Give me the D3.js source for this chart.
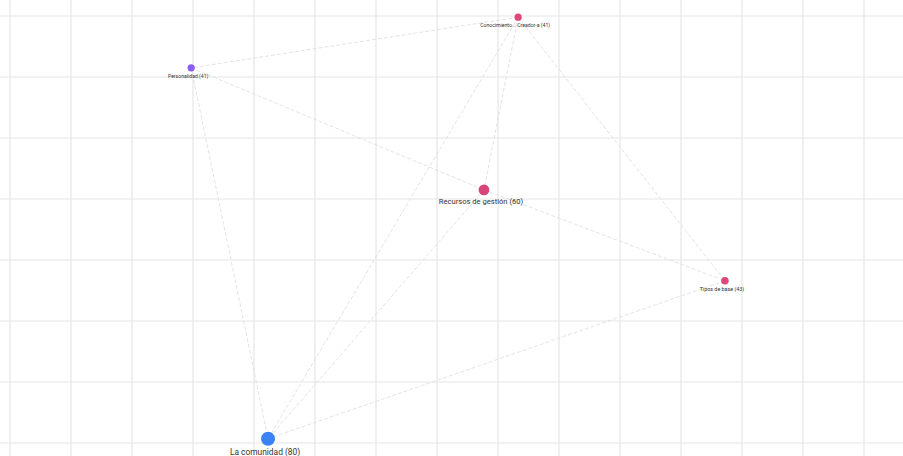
<!DOCTYPE html>
<html>
<head>
<meta charset="utf-8">
<script src="https://cdn.jsdelivr.net/npm/d3@7"></script>
<style>
  body { margin: 0; background: #fff; }
  svg { display: block; }
</style>
</head>
<body>
<div id="graph"></div>
<script>
/* node data (grid units) */
var nodeNames = ["Conocimiento... Creador-a", "Personalidad", "Recursos de gestión", "Tipos de base", "La comunidad"],
    nodeValues = [41, 41, 60, 43, 80],
    nodeX = [8.33, 2.97, 7.77, 11.72, 4.23],
    nodeY = [0.02, 0.85, 2.85, 4.34, 6.93],
    nodeColors = ["#e0467c", "#8b5cf6", "#d9477a", "#e0457b", "#3b82f6"];

/* links as [source, target] indexes */
var links = [[0, 1], [0, 2], [0, 3], [0, 4], [1, 2], [1, 4], [2, 3], [2, 4], [3, 4]];

var width = 903,
    height = 456;

var x = d3.scaleLinear().domain([0, 14]).range([10, 864]),
    y = d3.scaleLinear().domain([0, 7]).range([16, 443]);

var r = d3.scaleSqrt().domain([40, 80]).range([3.5, 7]),
    fontSize = d3.scaleLinear().domain([40, 60, 80]).range([5, 7.6, 8.4]);

var nodes = nodeNames.map(function(d, i) {
    return { name: d, value: nodeValues[i], x: nodeX[i], y: nodeY[i], color: nodeColors[i] };
});

var svg = d3.select("#graph")
            .append("svg")
            .attr("width", width)
            .attr("height", height);

/* background grid */
svg.append("g")
    .selectAll("line")
    .data(d3.range(0, 15))
    .enter().append("line")
        .attr("x1", function(d) { return x(d); })
        .attr("x2", function(d) { return x(d); })
        .attr("y1", 0)
        .attr("y2", height)
        .attr("stroke", "#e6e6e6")
        .attr("stroke-width", 1.2);

svg.append("g")
    .selectAll("line")
    .data(d3.range(0, 8))
    .enter().append("line")
        .attr("x1", 0)
        .attr("x2", width)
        .attr("y1", function(d) { return y(d); })
        .attr("y2", function(d) { return y(d); })
        .attr("stroke", "#e6e6e6")
        .attr("stroke-width", 1.2);

/* links */
svg.append("g")
    .selectAll("line")
    .data(links)
    .enter().append("line")
        .attr("x1", function(d) { return x(nodes[d[0]].x); })
        .attr("y1", function(d) { return y(nodes[d[0]].y); })
        .attr("x2", function(d) { return x(nodes[d[1]].x); })
        .attr("y2", function(d) { return y(nodes[d[1]].y); })
        .attr("stroke", "#dcdcdc")
        .attr("stroke-width", 0.8)
        .attr("stroke-dasharray", "4,2");

/* nodes */
var node = svg.append("g")
              .selectAll("g")
              .data(nodes)
              .enter().append("g")
                  .attr("transform", function(d) { return "translate(" + x(d.x) + "," + y(d.y) + ")"; });

node.append("circle")
    .attr("r", function(d) { return r(d.value); })
    .attr("fill", function(d) { return d.color; });

node.append("text")
    .attr("x", -3)
    .attr("y", function(d) { return r(d.value) + fontSize(d.value) + 1; })
    .attr("text-anchor", "middle")
    .attr("font-family", "Roboto, sans-serif")
    .attr("font-size", function(d) { return fontSize(d.value); })
    .attr("fill", "#333")
    .text(function(d) { return d.name + " (" + d.value + ")"; });
</script>
</body>
</html>
